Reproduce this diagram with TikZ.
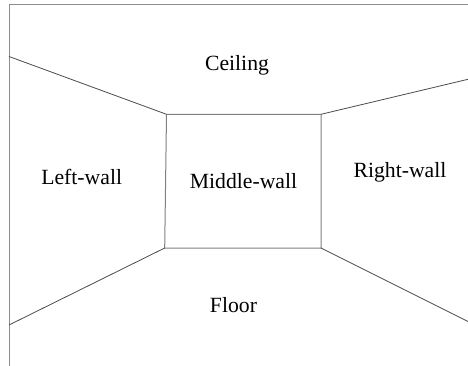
\documentclass[tikz,border=0pt]{standalone}
\usepackage{fontspec}
\setmainfont{Liberation Serif}
\begin{document}
\begin{tikzpicture}[x=1pt,y=-1pt,
  frameline/.style={draw=black!45,line width=1pt},
  edgeline/.style={draw=black!70,line width=0.8pt},
  boxline/.style={draw=black!50,line width=1pt},
  lab/.style={anchor=base,inner sep=0pt,font=\fontsize{21.7}{26}\selectfont}]
\useasboundingbox (0,0) rectangle (468,366);
\fill[white] (0,0) rectangle (468,366);
% frame
\coordinate (fbl) at (9,366);
\coordinate (ftl) at (9,4.7);
\coordinate (ftr) at (468,4.7);
\draw[frameline] (fbl) -- (ftl) -- (ftr);
% middle wall corners
\coordinate (mtl) at (166.5,114.3);
\coordinate (mtr) at (321,114.3);
\coordinate (mbr) at (321,248);
\coordinate (mbl) at (164.7,248);
\draw[boxline] (mtl) -- (mtr) -- (mbr) -- (mbl) -- cycle;
% outer points
\coordinate (lc) at (9,56.5);
\coordinate (rc) at (468,79.3);
\coordinate (lf) at (9,325);
\coordinate (rf) at (468,321.5);
\draw[edgeline] (lc) -- (mtl);
\draw[edgeline] (mtr) -- (rc);
\draw[edgeline] (mbl) -- (lf);
\draw[edgeline] (mbr) -- (rf);
% labels
\node[lab] (ceiling) at (237,70.7) {Ceiling};
\node[lab] (leftwall) at (81.7,184) {Left-wall};
\node[lab] (middlewall) at (243.5,188.3) {Middle-wall};
\node[lab] (rightwall) at (400,177.3) {Right-wall};
\node[lab] (floor) at (233.5,312.3) {Floor};
\end{tikzpicture}
\end{document}
